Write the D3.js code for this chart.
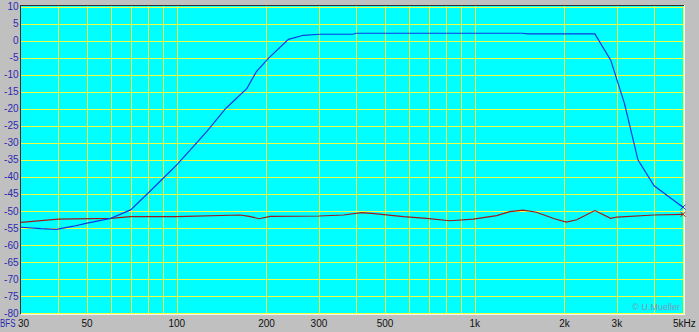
<!DOCTYPE html>
<html>
<head>
<meta charset="utf-8">
<script src="https://cdn.jsdelivr.net/npm/d3@7"></script>
<style>
  html, body { margin: 0; padding: 0; background: #c0c0c0; }
  svg { display: block; }
  text { font-family: "Liberation Sans", Arial, sans-serif; }
</style>
</head>
<body>
<svg id="chart" width="699" height="332"></svg>
<script>
// frequency response (blue) - Hz / dB
const respFreq = [30, 35, 39.5, 45, 50, 60, 70, 80, 90, 100, 126, 146, 172, 185, 203, 237, 266, 302, 390, 400, 1450, 1500, 2530, 2860, 3180, 3530, 4000, 5000];
const respDb   = [-54.8, -55.2, -55.4, -54.5, -53.6, -52.2, -49.7, -44.8, -40.4, -36.5, -26.7, -19.9, -14.0, -9.1, -5.2, 0.4, 1.6, 1.9, 1.9, 2.2, 2.2, 2.0, 2.0, -5.7, -18.4, -35.0, -42.6, -48.9];

// noise floor (red)
const noiseFreq = [30, 40, 60, 70, 100, 163, 175, 189, 206, 300, 362, 418, 460, 576, 688, 826, 990, 1185, 1312, 1455, 1610, 1850, 2030, 2200, 2530, 2860, 3000, 4000, 5000];
const noiseDb   = [-53.4, -52.4, -52.2, -51.7, -51.7, -51.2, -51.6, -52.3, -51.6, -51.5, -51.2, -50.5, -50.8, -51.7, -52.2, -52.9, -52.4, -51.4, -50.2, -49.8, -50.4, -52.3, -53.3, -52.6, -49.9, -52.2, -51.8, -51.2, -51.0];

const xGrid = [40, 50, 60, 70, 80, 90, 100, 200, 300, 400, 500, 600, 700, 800, 900, 1000, 2000, 3000, 4000];
const xLabels = [[50, "50"], [100, "100"], [200, "200"], [300, "300"], [500, "500"], [1000, "1k"], [2000, "2k"], [3000, "3k"]];
const yTicks = d3.range(10, -81, -5);

const svg = d3.select("#chart");
const pLeft = 21, pRight = 683, pTop = 6.7, pBottom = 313;

const x = d3.scaleLog().domain([30, 5000]).range([pLeft, pRight]);
const y = d3.scaleLinear().domain([-80, 10]).range([pBottom, pTop]);

// plot area
svg.append("rect")
    .attr("x", pLeft).attr("y", pTop - 1)
    .attr("width", pRight - pLeft).attr("height", pBottom - pTop + 1)
    .attr("fill", "#00ffff");

// grid
const grid = svg.append("g").attr("stroke", "#f0ff40").attr("stroke-width", 1).attr("shape-rendering", "crispEdges");
grid.selectAll(".vx").data(xGrid).join("line")
    .attr("x1", d => Math.round(x(d)) + 0.5).attr("x2", d => Math.round(x(d)) + 0.5)
    .attr("y1", pTop - 1).attr("y2", pBottom);
grid.selectAll(".hy").data(yTicks).join("line")
    .attr("y1", d => Math.round(y(d)) + 0.5).attr("y2", d => Math.round(y(d)) + 0.5)
    .attr("x1", pLeft).attr("x2", pRight);
grid.append("line").attr("x1", pRight + 0.5).attr("x2", pRight + 0.5).attr("y1", pTop - 1).attr("y2", pBottom + 1);

// sunken border
svg.append("path")
    .attr("d", `M${pLeft - 0.5},${pBottom + 1}V${pTop - 1.5}H${pRight + 1}`)
    .attr("fill", "none").attr("stroke", "#303030").attr("shape-rendering", "crispEdges");
svg.append("path")
    .attr("d", `M${pLeft - 0.5},${pBottom + 1.5}H${pRight + 1.5}V${pTop - 1.5}`)
    .attr("fill", "none").attr("stroke", "#f4f4f4").attr("shape-rendering", "crispEdges");

// y labels
svg.append("g").selectAll("text").data(yTicks).join("text")
    .attr("x", 18.5).attr("y", d => y(d) + 3.6)
    .attr("text-anchor", "end")
    .attr("font-size", 10)
    .attr("fill", "#2a2ab0")
    .text(d => d);

// x labels
svg.append("g").selectAll("text").data(xLabels).join("text")
    .attr("x", d => x(d[0])).attr("y", 327)
    .attr("text-anchor", "middle")
    .attr("font-size", 10)
    .attr("fill", "#101010")
    .text(d => d[1]);
svg.append("text").attr("x", 18).attr("y", 327).attr("font-size", 10).attr("fill", "#101010").text("30");
svg.append("text").attr("x", 673).attr("y", 327).attr("font-size", 10).attr("fill", "#101010").text("5kHz");
svg.append("text").attr("x", 0).attr("y", 327).attr("font-size", 10).attr("fill", "#2a2ab0")
    .attr("textLength", 15.5).attr("lengthAdjust", "spacingAndGlyphs").text("BFS");

// watermark
svg.append("text").attr("x", 680).attr("y", 309.5).attr("text-anchor", "end")
    .attr("font-size", 9).attr("fill", "#7a9ab8").text("© U.Mueller");

// curves
const line = d3.line().x(d => x(d[0])).y(d => y(d[1]));
const series = [
    { f: noiseFreq, v: noiseDb, color: "#9a1c1c" },
    { f: respFreq, v: respDb, color: "#0a3ae0" }
];
series.forEach(s => {
    const pts = s.f.map((f, i) => [f, s.v[i]]);
    svg.append("path").datum(pts)
        .attr("fill", "none").attr("stroke", s.color).attr("stroke-width", 1.2)
        .attr("d", line);
    const last = pts[pts.length - 1];
    const cx = x(last[0]), cy = y(last[1]);
    svg.append("path")
        .attr("d", `M${cx - 2.5},${cy - 2.5}L${cx + 2.5},${cy + 2.5}M${cx - 2.5},${cy + 2.5}L${cx + 2.5},${cy - 2.5}`)
        .attr("stroke", s.color).attr("stroke-width", 1);
});
</script>
</body>
</html>
